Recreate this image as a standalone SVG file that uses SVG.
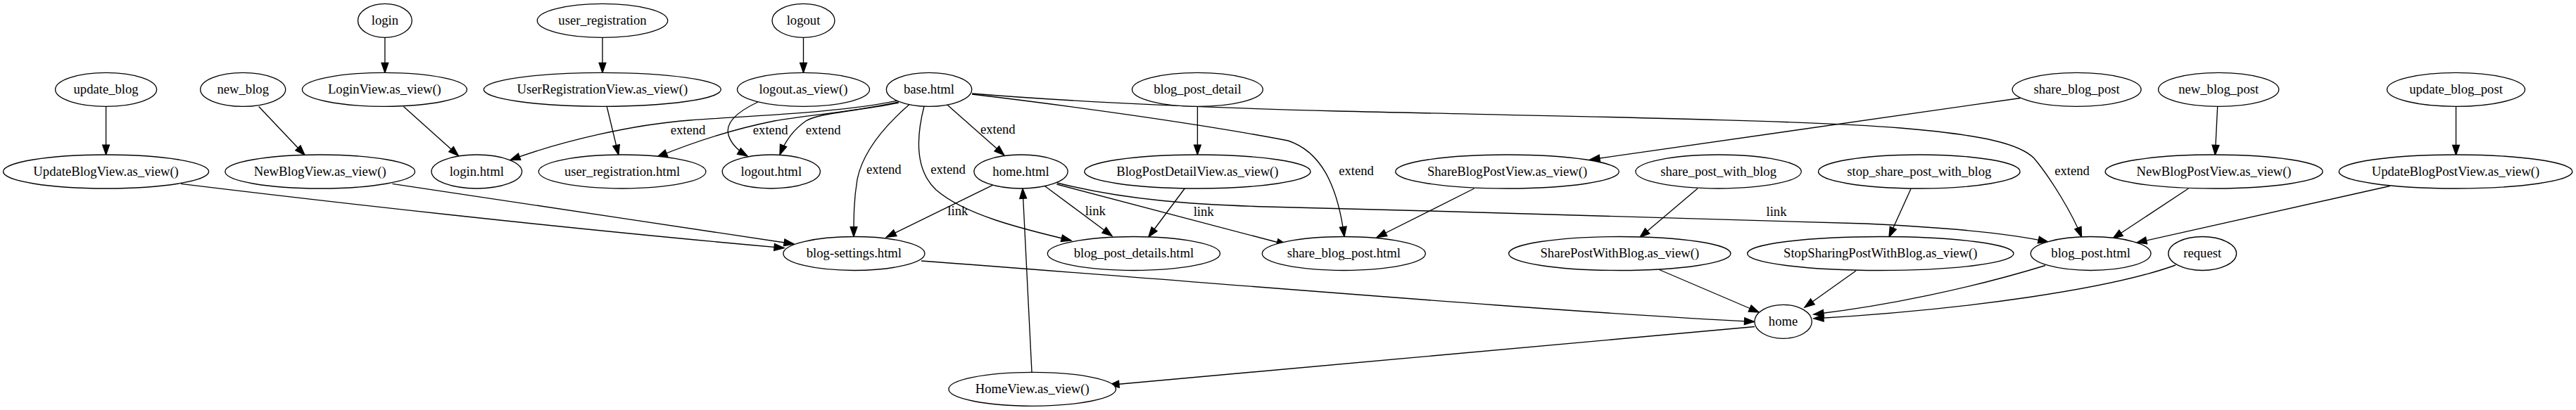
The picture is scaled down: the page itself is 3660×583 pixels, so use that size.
<svg xmlns="http://www.w3.org/2000/svg" width="3660" height="583" viewBox="0 0 3660 583">
<style>
.n ellipse{fill:#fff;stroke:#000;stroke-width:1.33}
text{font-family:"Liberation Serif","Times New Roman",serif;font-size:18.67px;fill:#000;text-anchor:middle}
.e path{fill:none;stroke:#000;stroke-width:1.33;marker-end:url(#ah)}
</style>
<defs>
<marker id="ah" markerUnits="userSpaceOnUse" markerWidth="16" markerHeight="12" viewBox="-1 -1 15.33 11.33" refX="13.33" refY="4.67" orient="auto" overflow="visible">
<path d="M0,0 L13.33,4.67 L0,9.33 Z" fill="#000" stroke="#000" stroke-width="1.33"/>
</marker>
</defs>
<rect width="3660" height="583" fill="#fff"/>
<g id="edges" class="e">
<path d="M546.9,53.3 L546.9,103.3"/>
<path d="M856,53.3 L856,103.3"/>
<path d="M1141.5,53.3 L1141.5,103.3"/>
<path d="M150.6,151.3 L150.6,220"/>
<path d="M367.7,151.5 L433,220.5"/>
<path d="M573.4,151.5 L651.4,221.5"/>
<path d="M862.2,151.5 L878.8,220.2"/>
<path d="M1077,145 C1045,160 1030,175 1035,192 C1039,205 1050,215 1062,222"/>
<path d="M1275,143 C1200,160 1060,165 980,171 C900,177 800,200 725,227.5"/>
<path d="M1276,145 C1210,160 1150,163 1100,172 C1050,182 1000,196 934,223"/>
<path d="M1277,146 C1220,158 1165,160 1145,172 C1125,186 1115,202 1108,220"/>
<path d="M1345,148.3 L1426.7,220.5"/>
<path d="M1292,148.5 C1250,185 1225,220 1218,255 C1213,285 1213,310 1213,336.5"/>
<path d="M1313,151 C1303,190 1298,240 1330,270 C1370,305 1450,325 1522,342"/>
<path d="M1381,134 C1500,148 1700,175 1830,200 C1875,215 1900,260 1910,336.5"/>
<path d="M1381,133 C1550,147 1750,154 1900,158 C2200,165 2550,170 2700,182 C2820,192 2870,205 2890,225 C2915,255 2945,305 2957.5,337"/>
<path d="M257,261.4 C450,285 800,325 1114,352.6"/>
<path d="M557.5,261.4 C700,283 950,320 1128,347"/>
<path d="M1411.7,262.7 L1259.3,337.3"/>
<path d="M1482.7,263.3 L1580,335.5"/>
<path d="M1501.4,262 L1828.2,348"/>
<path d="M1502,260 C1600,285 1700,291 1800,294 C2100,302 2450,310 2650,318 C2780,324 2860,333 2910,344"/>
<path d="M1701.4,151.3 L1701.4,220"/>
<path d="M1683.6,267.5 L1631.8,337"/>
<path d="M2870.5,139.5 L2259,227"/>
<path d="M2094.6,268 L1956.2,337.5"/>
<path d="M2412,268 L2330,337.5"/>
<path d="M2715,268.5 L2684,337"/>
<path d="M3150.7,151.3 L3147.3,220.3"/>
<path d="M3489.5,151.3 L3489.5,220.3"/>
<path d="M3109.4,268 L3002,339"/>
<path d="M3395.6,264.5 L3036,345"/>
<path d="M1309,371 C1700,400 2200,443 2492.5,457.5"/>
<path d="M2357.5,383.5 L2499,444"/>
<path d="M2637,385 L2564,437"/>
<path d="M2906,377.5 C2800,410 2680,435 2577,447"/>
<path d="M3091,377 C3000,410 2800,440 2577,453"/>
<path d="M2493,464.5 L1576,547.5"/>
<path d="M1466,529.3 L1453,268.3"/>
<text x="977.6" y="190.5">extend</text>
<text x="1094.7" y="190.5">extend</text>
<text x="1169.7" y="190.5">extend</text>
<text x="1417.8" y="189.5">extend</text>
<text x="1255.8" y="247.3">extend</text>
<text x="1347" y="247.3">extend</text>
<text x="1927" y="248.5">extend</text>
<text x="2944" y="248.5">extend</text>
<text x="1360.8" y="305.6">link</text>
<text x="1556.3" y="305.6">link</text>
<text x="1710.2" y="307">link</text>
<text x="2524" y="307">link</text>
</g>
<g id="login" class="n"><ellipse cx="546.9" cy="29.3" rx="38.4" ry="24"/><text x="546.9" y="34.9">login</text></g>
<g id="user_registration" class="n"><ellipse cx="856" cy="29.3" rx="92.7" ry="24"/><text x="856" y="34.9">user_registration</text></g>
<g id="logout" class="n"><ellipse cx="1141.5" cy="29.3" rx="44.5" ry="24"/><text x="1141.5" y="34.9">logout</text></g>
<g id="update_blog" class="n"><ellipse cx="150.6" cy="127.3" rx="72" ry="24"/><text x="150.6" y="132.9">update_blog</text></g>
<g id="new_blog" class="n"><ellipse cx="345.2" cy="127.3" rx="60.5" ry="24"/><text x="345.2" y="132.9">new_blog</text></g>
<g id="LoginView" class="n"><ellipse cx="546.4" cy="127.3" rx="117" ry="24"/><text x="546.4" y="132.9">LoginView.as_view()</text></g>
<g id="UserRegistrationView" class="n"><ellipse cx="855.8" cy="127.3" rx="168.5" ry="24"/><text x="855.8" y="132.9">UserRegistrationView.as_view()</text></g>
<g id="logout_view" class="n"><ellipse cx="1141.5" cy="127.3" rx="94" ry="24"/><text x="1141.5" y="132.9">logout.as_view()</text></g>
<g id="base_html" class="n"><ellipse cx="1320" cy="127.3" rx="60.7" ry="24"/><text x="1320" y="132.9">base.html</text></g>
<g id="blog_post_detail" class="n"><ellipse cx="1701.4" cy="127.3" rx="92.9" ry="24"/><text x="1701.4" y="132.9">blog_post_detail</text></g>
<g id="share_blog_post" class="n"><ellipse cx="2950.6" cy="127.3" rx="91.5" ry="24"/><text x="2950.6" y="132.9">share_blog_post</text></g>
<g id="new_blog_post" class="n"><ellipse cx="3152.2" cy="127.3" rx="85.6" ry="24"/><text x="3152.2" y="132.9">new_blog_post</text></g>
<g id="update_blog_post" class="n"><ellipse cx="3489.5" cy="127.3" rx="98" ry="24"/><text x="3489.5" y="132.9">update_blog_post</text></g>
<g id="UpdateBlogView" class="n"><ellipse cx="150.6" cy="244" rx="146" ry="24"/><text x="150.6" y="249.6">UpdateBlogView.as_view()</text></g>
<g id="NewBlogView" class="n"><ellipse cx="454.7" cy="244" rx="134.8" ry="24"/><text x="454.7" y="249.6">NewBlogView.as_view()</text></g>
<g id="login_html" class="n"><ellipse cx="677.3" cy="244" rx="64.3" ry="24"/><text x="677.3" y="249.6">login.html</text></g>
<g id="user_registration_html" class="n"><ellipse cx="884.1" cy="244" rx="118.8" ry="24"/><text x="884.1" y="249.6">user_registration.html</text></g>
<g id="logout_html" class="n"><ellipse cx="1095.8" cy="244" rx="69.6" ry="24"/><text x="1095.8" y="249.6">logout.html</text></g>
<g id="home_html" class="n"><ellipse cx="1450.5" cy="244" rx="66.6" ry="24"/><text x="1450.5" y="249.6">home.html</text></g>
<g id="BlogPostDetailView" class="n"><ellipse cx="1701.4" cy="244" rx="160.6" ry="24"/><text x="1701.4" y="249.6">BlogPostDetailView.as_view()</text></g>
<g id="ShareBlogPostView" class="n"><ellipse cx="2141.5" cy="244" rx="158.8" ry="24"/><text x="2141.5" y="249.6">ShareBlogPostView.as_view()</text></g>
<g id="share_post_with_blog" class="n"><ellipse cx="2441.6" cy="244" rx="117.7" ry="24"/><text x="2441.6" y="249.6">share_post_with_blog</text></g>
<g id="stop_share_post_with_blog" class="n"><ellipse cx="2726.8" cy="244" rx="143.3" ry="24"/><text x="2726.8" y="249.6">stop_share_post_with_blog</text></g>
<g id="NewBlogPostView" class="n"><ellipse cx="3145.6" cy="244" rx="154.5" ry="24"/><text x="3145.6" y="249.6">NewBlogPostView.as_view()</text></g>
<g id="UpdateBlogPostView" class="n"><ellipse cx="3489" cy="244" rx="165.8" ry="24"/><text x="3489" y="249.6">UpdateBlogPostView.as_view()</text></g>
<g id="blog_settings_html" class="n"><ellipse cx="1213.4" cy="360.5" rx="100.5" ry="24"/><text x="1213.4" y="366.1">blog-settings.html</text></g>
<g id="blog_post_details_html" class="n"><ellipse cx="1610.9" cy="360.5" rx="122.6" ry="24"/><text x="1610.9" y="366.1">blog_post_details.html</text></g>
<g id="share_blog_post_html" class="n"><ellipse cx="1909.3" cy="360.5" rx="116" ry="24"/><text x="1909.3" y="366.1">share_blog_post.html</text></g>
<g id="SharePostWithBlog" class="n"><ellipse cx="2301.3" cy="360.5" rx="157.7" ry="24"/><text x="2301.3" y="366.1">SharePostWithBlog.as_view()</text></g>
<g id="StopSharingPostWithBlog" class="n"><ellipse cx="2671.8" cy="360.5" rx="189.2" ry="24"/><text x="2671.8" y="366.1">StopSharingPostWithBlog.as_view()</text></g>
<g id="blog_post_html" class="n"><ellipse cx="2970.6" cy="360.5" rx="85.4" ry="24"/><text x="2970.6" y="366.1">blog_post.html</text></g>
<g id="request" class="n"><ellipse cx="3129.2" cy="360.5" rx="48.4" ry="24"/><text x="3129.2" y="366.1">request</text></g>
<g id="home" class="n"><ellipse cx="2533.6" cy="457.3" rx="40.7" ry="24"/><text x="2533.6" y="462.9">home</text></g>
<g id="HomeView" class="n"><ellipse cx="1466.7" cy="553.3" rx="118.8" ry="24"/><text x="1466.7" y="558.9">HomeView.as_view()</text></g>
</svg>
